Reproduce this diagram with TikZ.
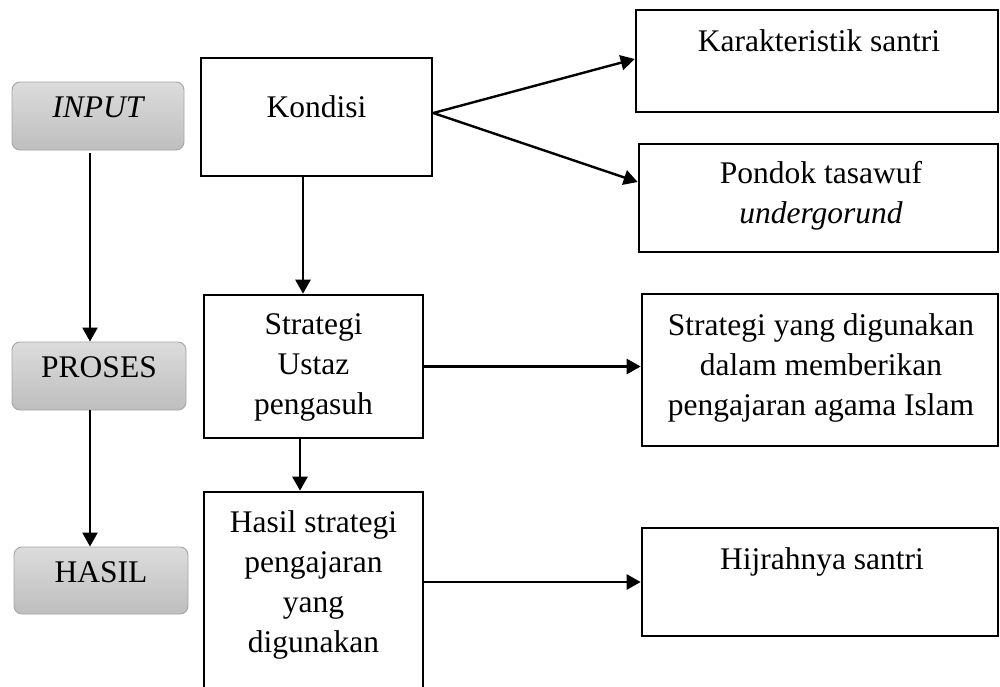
\documentclass[tikz,border=0pt]{standalone}
\usepackage{fontspec}
\setmainfont{Liberation Serif}
\usetikzlibrary{arrows.meta}
\definecolor{gtop}{RGB}{220,220,220}
\definecolor{gbot}{RGB}{190,190,190}
\definecolor{gline}{RGB}{165,165,165}
\tikzset{
  box/.style={draw=black, line width=2.6pt, rectangle, inner sep=0pt},
  graybox/.style={draw=gline, line width=0.9pt, rounded corners=8pt, top color=gtop, bottom color=gbot,
    inner sep=0pt, text height=0.66em, text depth=0.29em},
  txt/.style={inner sep=0pt, align=center},
  conn/.style={line width=2.4pt, -{Triangle[length=14pt,width=15pt]}},
}
\begin{document}
\begin{tikzpicture}[x=1pt,y=-1pt,font=\fontsize{31.5}{40}\selectfont]
\clip (0,0) rectangle (1000,686);
\fill[white] (0,0) rectangle (1000,686);
% left column
\node[graybox, minimum width=172pt, minimum height=68pt] (in) at (98,116) {\itshape INPUT};
\node[graybox, minimum width=174pt, minimum height=68pt] (pr) at (99,376) {PROSES};
\node[graybox, minimum width=174pt, minimum height=67pt] (ha) at (101,580.5) {HASIL};
% middle column
\node[box, minimum width=231pt, minimum height=118pt] (k) at (316.5,117) {};
\node[txt, anchor=base] (kt) at (316.5,117) {Kondisi};
\node[box, minimum width=219pt, minimum height=143pt] (sl) at (313.5,366.5) {};
\node[txt] (slt) at (313.5,367.7) {Strategi\\Ustaz\\pengasuh};
\node[box, minimum width=219pt, minimum height=248pt] (hs) at (313.5,616) {};
\node[txt] (hst) at (313.5,584.7) {Hasil strategi\\pengajaran\\yang\\digunakan};
% right column
\node[box, minimum width=362pt, minimum height=102pt] (kar) at (817,61) {};
\node[txt, anchor=base] (kart) at (819,51) {Karakteristik santri};
\node[box, minimum width=359pt, minimum height=108pt] (pon) at (818.5,198) {};
\node[txt] (pont) at (821,196) {Pondok tasawuf\\\itshape undergorund};
\node[box, minimum width=356pt, minimum height=152pt] (sr) at (820,370) {};
\node[txt] (srt) at (821,367.7) {Strategi yang digunakan\\dalam memberikan\\pengajaran agama Islam};
\node[box, minimum width=356pt, minimum height=108pt] (hj) at (820,582) {};
\node[txt, anchor=base] (hjt) at (822,569) {Hijrahnya santri};
% connectors
\draw[conn, shorten <=3pt] ([xshift=-8pt]in.south) -- ([xshift=-8pt]in.south |- pr.north);
\draw[conn] ([xshift=-9pt]pr.south) -- ([xshift=-9pt]pr.south |- ha.north);
\draw[conn] ([yshift=4pt]k.east) -- ([yshift=2pt]kar.west);
\draw[conn] ([yshift=4pt]k.east) -- ([yshift=16pt]pon.west);
\draw[conn] ([xshift=-13.5pt]k.south) -- ([xshift=-13.5pt]k.south |- sl.north);
\draw[conn] ([xshift=-13.5pt]sl.south) -- ([xshift=-13.5pt]sl.south |- hs.north);
\draw[conn] (sl.east) -- (sl.east -| sr.west);
\draw[conn] (hj.west -| hs.east) -- (hj.west);
\end{tikzpicture}
\end{document}
